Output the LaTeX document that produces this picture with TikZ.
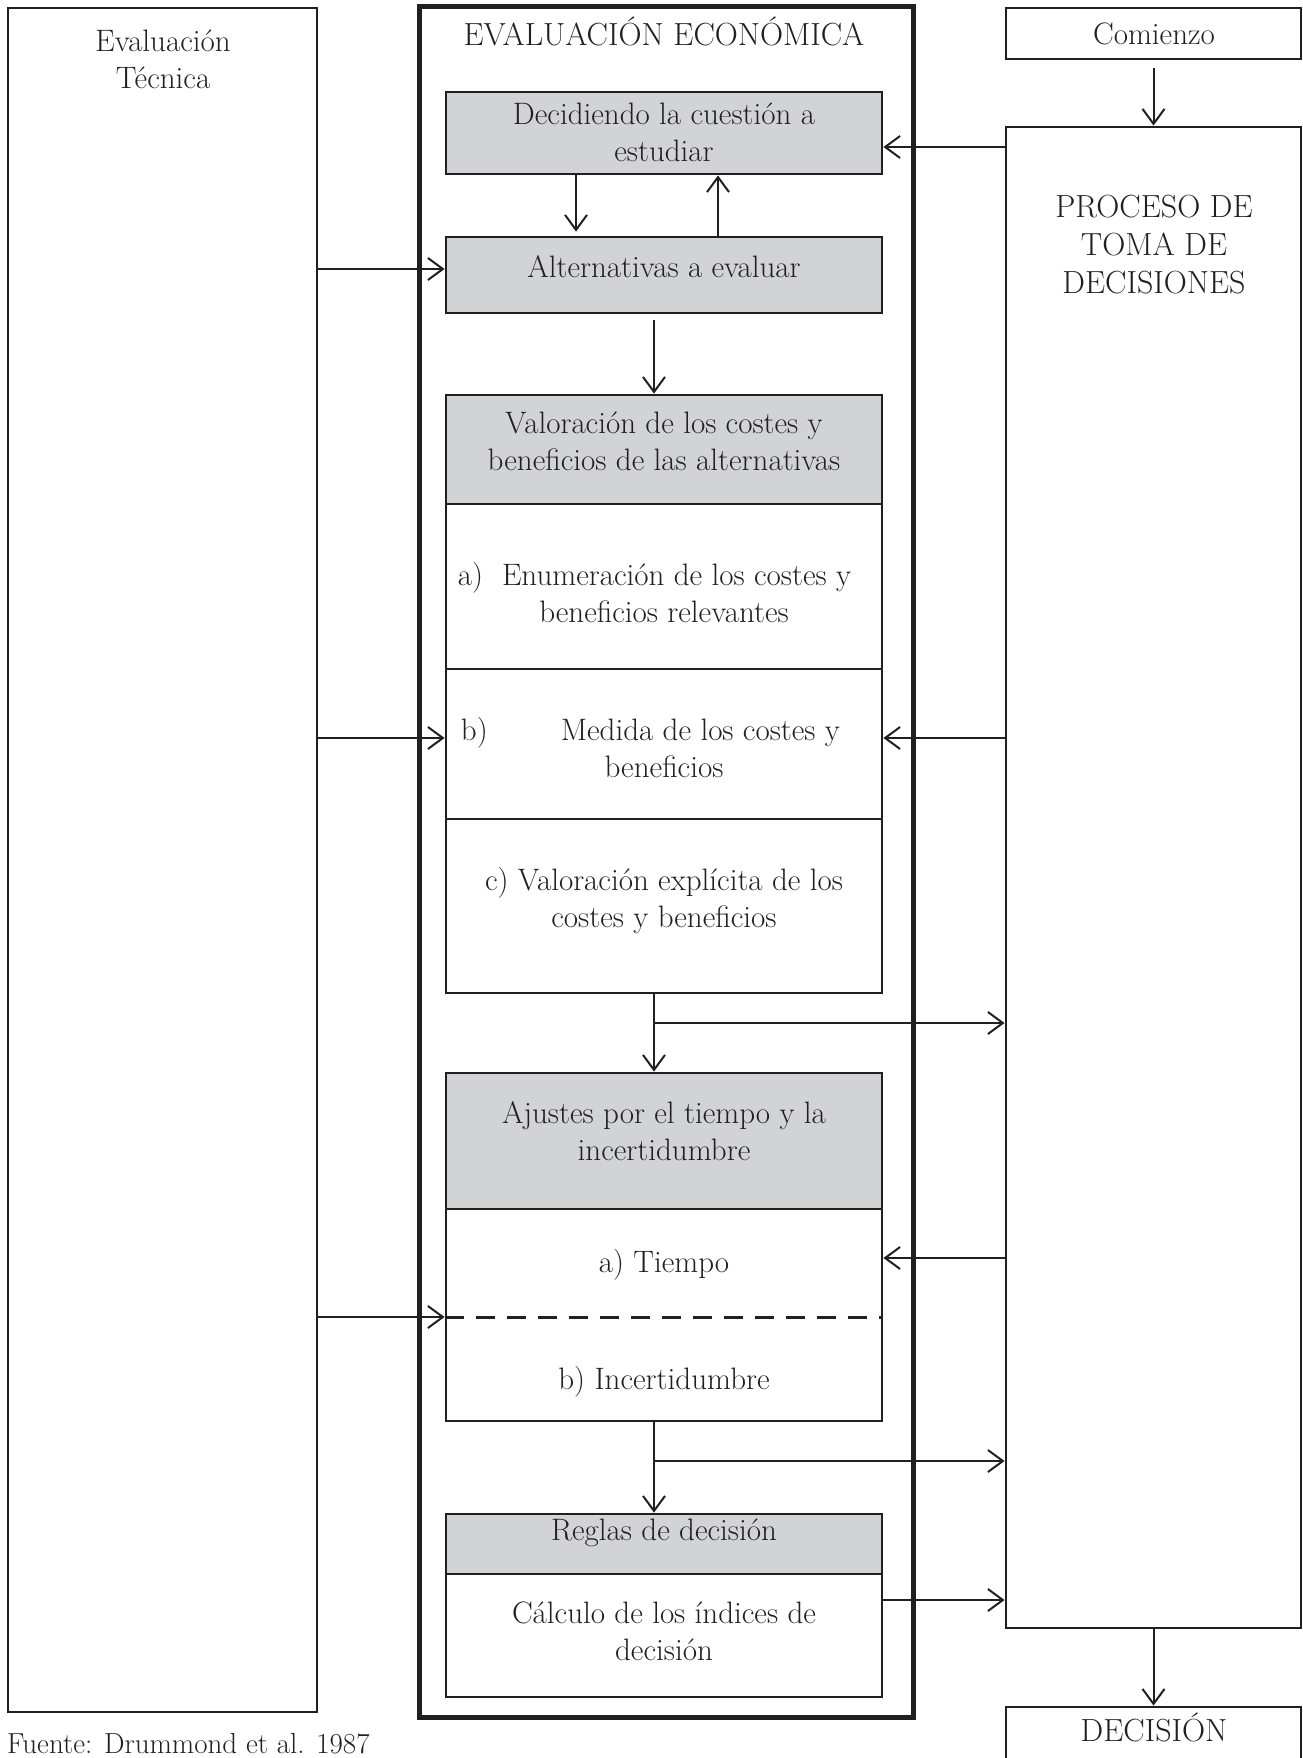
\documentclass[tikz,border=0pt]{standalone}
\usepackage{fontspec}
\usetikzlibrary{arrows.meta}
\definecolor{boxgray}{RGB}{210,211,213}
\definecolor{ink}{RGB}{35,31,32}
\begin{document}
\begin{tikzpicture}
	[x=1pt, y=-1pt,
	>={Straight Barb[length=15pt, width=22pt]},
	every node/.style={font=\fontsize{31}{37}\selectfont, text=ink},
	frame/.style={draw=ink, line width=2.8pt, inner sep=0pt},
	shaded/.style={frame, fill=boxgray},
	inner/.style={minimum width=436pt},
	txt/.style={align=center, inner sep=0pt},
	caps/.style={txt, font=\fontsize{32}{38}\selectfont},
	link/.style={->, color=ink, line width=2pt}]
	\useasboundingbox (0,0) rectangle (1303,1758);
	% columnas
	\node[frame, minimum width=309pt, minimum height=1704pt] (tecnica) at (162.5,860) {};
	\node[draw=ink, line width=5pt, inner sep=0pt, minimum width=494pt, minimum height=1710pt] (economica) at (666,862) {};
	\node[frame, minimum width=295pt, minimum height=51pt] (comienzo) at (1153.5,33.5) {};
	\node[frame, minimum width=295pt, minimum height=1501pt] (proceso) at (1153.5,877.5) {};
	\node[frame, minimum width=295pt, minimum height=83pt] (decision) at (1153.5,1748.5) {};
	% cajas de la evaluacion economica
	\node[shaded, inner, minimum height=82pt] (decidiendo) at (664,133) {};
	\node[shaded, inner, minimum height=76pt] (alternativas) at (664,275) {};
	\node[shaded, inner, minimum height=109pt] (valoracion) at (664,449.5) {};
	\node[frame, inner, minimum height=165pt] (enumeracion) at (664,586.5) {};
	\node[frame, inner, minimum height=150pt] (medida) at (664,744) {};
	\node[frame, inner, minimum height=174pt] (explicita) at (664,906) {};
	\node[shaded, inner, minimum height=136pt] (ajustes) at (664,1141) {};
	\node[frame, inner, minimum height=212pt] (tiempo) at (664,1315) {};
	\node[shaded, inner, minimum height=60pt] (reglas) at (664,1544) {};
	\node[frame, inner, minimum height=123pt] (calculo) at (664,1635.5) {};
	% textos
	\node[txt] (tecnica-t) at (163,59) {Evaluación\\Técnica};
	\node[caps, anchor=base] (economica-t) at (664,46) {EVALUACIÓN ECONÓMICA};
	\node[txt, anchor=base] (comienzo-t) at (1154,45) {Comienzo};
	\node[caps] (proceso-t) at (1154,245) {PROCESO DE\\TOMA DE\\DECISIONES};
	\node[caps, anchor=base] (decision-t) at (1154,1741) {DECISIÓN};
	\node[txt] (decidiendo-t) at (664,132) {Decidiendo la cuestión a\\estudiar};
	\node[txt] (alternativas-t) at (664,267) {Alternativas a evaluar};
	\node[txt] (valoracion-t) at (664,441) {Valoración de los costes y\\beneficios de las alternativas};
	\node[txt] (enumeracion-t) at (664,593) {a)\hspace{19pt}Enumeración de los costes y\hspace*{19pt}\\beneficios relevantes};
	\node[txt] (medida-t) at (664,748) {b)\hspace{73pt}Medida de los costes y\hspace*{27pt}\\beneficios};
	\node[txt] (explicita-t) at (664,901) {c) Valoración explícita de los\\costes y beneficios};
	\node[txt] (ajustes-t) at (664,1131) {Ajustes por el tiempo y la\\incertidumbre};
	\node[txt] (tiempo-t) at (664,1265) {a) Tiempo};
	\node[txt] (incert-t) at (664,1382) {b) Incertidumbre};
	\node[txt] (reglas-t) at (664,1533) {Reglas de decisión};
	\node[txt] (calculo-t) at (664,1631) {Cálculo de los índices de\\decisión};
	\node[anchor=base west, inner sep=0pt, font=\fontsize{29}{34}\selectfont] (fuente) at (7,1753) {Fuente: Drummond et al. 1987};
	% filas y ejes de las flechas
	\coordinate (fila0) at (0,147);
	\coordinate (fila1) at (0,269);
	\coordinate (fila2) at (0,738);
	\coordinate (rama1) at (0,1023);
	\coordinate (fila3) at (0,1258);
	\coordinate (corte) at (0,1317);
	\coordinate (rama2) at (0,1461);
	\coordinate (fila4) at (0,1600);
	\coordinate (baja) at (576,0);
	\coordinate (eje) at (654,0);
	\coordinate (sube) at (718,0);
	\draw[ink, line width=3pt, dash pattern=on 19pt off 12pt] (tiempo.west |- corte) -- (tiempo.east |- corte);
	% flechas
	\path[link] (tecnica.east |- fila1) edge (alternativas.west |- fila1)
	(tecnica.east |- fila2) edge (medida.west |- fila2)
	(tecnica.east |- corte) edge (tiempo.west |- corte)
	(proceso.west |- fila0) edge (decidiendo.east |- fila0)
	(proceso.west |- fila2) edge (medida.east |- fila2)
	(proceso.west |- fila3) edge (tiempo.east |- fila3);
	\path[link] (comienzo.south) edge[shorten <=8pt] (proceso.north)
	(proceso.south) edge (decision.north);
	\path[link] (decidiendo.south -| baja) edge[shorten >=4pt] (alternativas.north -| baja)
	(alternativas.north -| sube) edge (decidiendo.south -| sube)
	(alternativas.south -| eje) edge[shorten <=6pt] (valoracion.north -| eje)
	(explicita.south -| eje) edge (ajustes.north -| eje)
	(eje |- rama1) edge (proceso.west |- rama1)
	(tiempo.south -| eje) edge (reglas.north -| eje)
	(eje |- rama2) edge (proceso.west |- rama2)
	(calculo.east |- fila4) edge (proceso.west |- fila4);
\end{tikzpicture}
\end{document}
